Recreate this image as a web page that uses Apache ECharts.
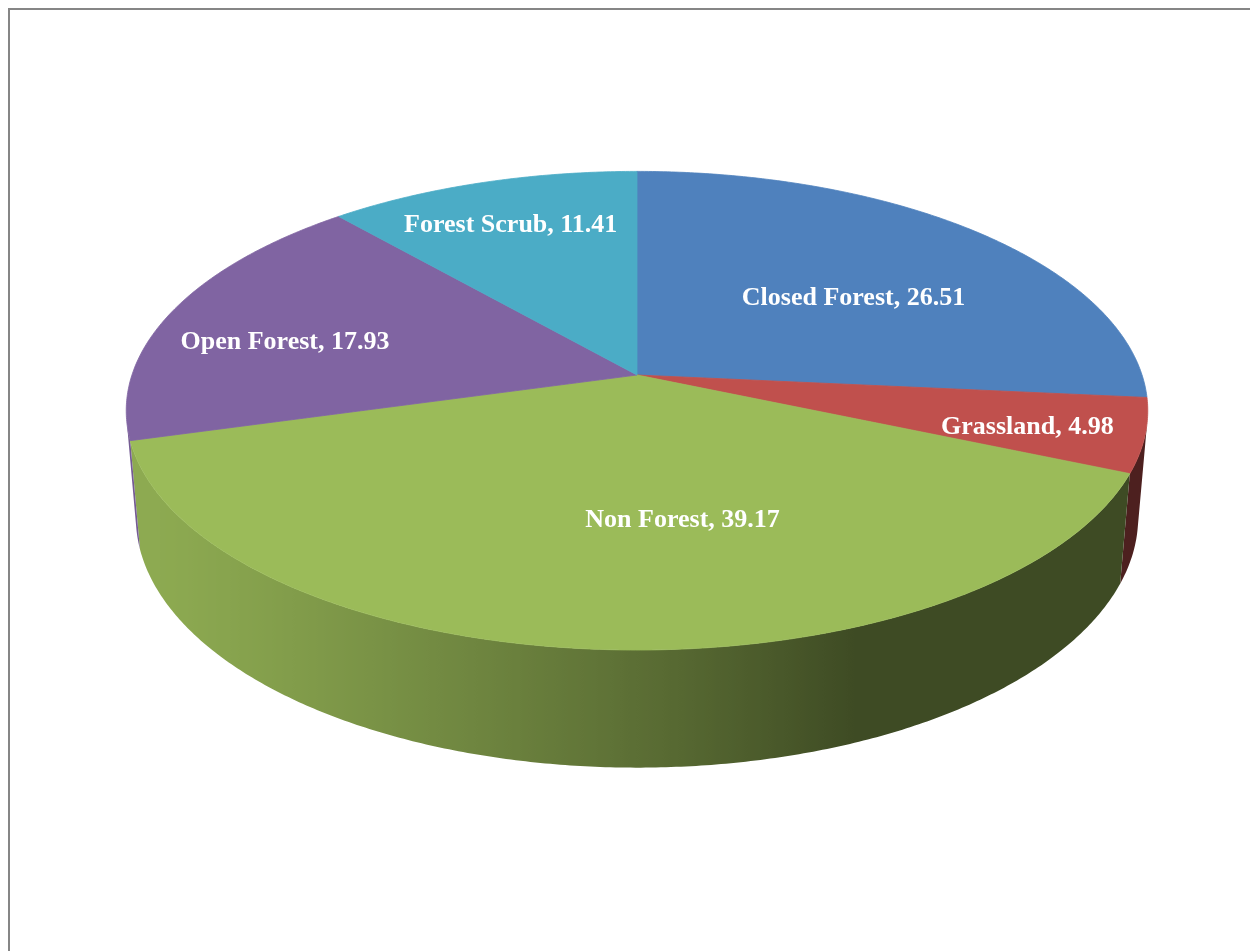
<!DOCTYPE html>
<html>
<head>
<meta charset="utf-8">
<title>Forest Cover</title>
<script src="https://cdn.jsdelivr.net/npm/echarts@6/dist/echarts.min.js"></script>
<style>
  html, body { margin: 0; padding: 0; background: #fff; }
  #chart { width: 1250px; height: 951px; }
</style>
</head>
<body>
<div id="chart"></div>
<script>
// Land cover shares (%)
const categories = ['Closed Forest', 'Grassland', 'Non Forest', 'Open Forest', 'Forest Scrub'];
const values = [26.51, 4.98, 39.17, 17.93, 11.41];
const colors = ['#4F81BD', '#C0504D', '#9BBB59', '#8064A2', '#4BACC6'];

// Label anchor: radius fraction on the top face plus a small pixel nudge
const labelPlacement = [
  { r: 0.60, dx: 5, dy: 12 },
  { r: 0.80, dx: -13, dy: 4 },
  { r: 0.60, dx: 68, dy: -9 },
  { r: 0.72, dx: -14, dy: 14 },
  { r: 0.75, dx: -6, dy: -1 }
];

// Perspective camera for the tilted disc
const view = {
  cx: 637, cy: 375,      // screen position of the disc centre
  f: 3000,               // focal length (px)
  d: 5.94,               // camera distance (disc radius = 1)
  tilt: 27.6 * Math.PI / 180,
  h: 0.24                // disc thickness
};
const cosT = Math.cos(view.tilt), sinT = Math.sin(view.tilt);

// theta in degrees, clockwise from the far side (12 o'clock)
function project(thetaDeg, r, y) {
  const t = thetaDeg * Math.PI / 180;
  const X = r * Math.sin(t), Z = r * Math.cos(t), Y = y;
  const yv = Y * cosT + Z * sinT;
  const zv = view.d + Z * cosT - Y * sinT;
  return [view.cx + view.f * X / zv, view.cy - view.f * yv / zv];
}

const total = values.reduce((s, v) => s + v, 0);
const starts = [];
values.reduce((acc, v, i) => { starts[i] = acc; return acc + v; }, 0);
const angleOf = v => v / total * 360;

// Portion of the outer wall that faces the camera
const visLimit = Math.acos(-1 / (view.d * cosT)) * 180 / Math.PI;
const visMin = visLimit, visMax = 360 - visLimit;

// Side lighting: light comes from the front-left
const light = { ambient: 0.40, diffuse: 0.51, dir: 248 };
function shade(hex, factor) {
  const n = parseInt(hex.slice(1), 16);
  const r = Math.round(((n >> 16) & 255) * factor);
  const g = Math.round(((n >> 8) & 255) * factor);
  const b = Math.round((n & 255) * factor);
  return 'rgb(' + r + ',' + g + ',' + b + ')';
}
function wallFactor(theta) {
  const c = Math.cos((theta - light.dir) * Math.PI / 180);
  return light.ambient + light.diffuse * Math.max(0, c);
}

function renderWall(params, api) {
  const i = params.dataIndex;
  const a0 = angleOf(starts[i]);
  const a1 = a0 + angleOf(api.value(0));
  const lo = Math.max(a0, visMin), hi = Math.min(a1, visMax);
  if (lo >= hi) return { type: 'group', children: [] };
  const steps = Math.max(2, Math.ceil((hi - lo) / 0.5));
  const top = [], bottom = [];
  for (let k = 0; k <= steps; k++) {
    const t = lo + (hi - lo) * k / steps;
    top.push(project(t, 1, 0));
    bottom.push(project(t, 1, -view.h));
  }
  const pts = top.concat(bottom.reverse());
  const xs = pts.map(p => p[0]);
  const xmin = Math.min.apply(null, xs), xmax = Math.max.apply(null, xs);
  const span = Math.max(1e-6, xmax - xmin);
  const stops = [];
  for (let k = steps; k >= 0; k--) {
    const t = lo + (hi - lo) * k / steps;
    const x = project(t, 1, 0)[0];
    stops.push({ offset: Math.min(1, Math.max(0, (x - xmin) / span)), color: shade(colors[i], wallFactor(t)) });
  }
  return {
    type: 'polygon',
    shape: { points: pts },
    style: {
      fill: { type: 'linear', x: xmin, y: 0, x2: xmax, y2: 0, global: true, colorStops: stops }
    }
  };
}

function renderTop(params, api) {
  const i = params.dataIndex;
  const a0 = angleOf(starts[i]);
  const a1 = a0 + angleOf(api.value(0));
  const steps = Math.max(2, Math.ceil((a1 - a0) / 0.5));
  const pts = [project(0, 0, 0)];
  for (let k = 0; k <= steps; k++) {
    pts.push(project(a0 + (a1 - a0) * k / steps, 1, 0));
  }
  return {
    type: 'polygon',
    shape: { points: pts },
    style: { fill: colors[i], stroke: colors[i], lineWidth: 0.8, lineJoin: 'round' }
  };
}

function renderLabel(params, api) {
  const i = params.dataIndex;
  const v = api.value(0);
  const mid = angleOf(starts[i]) + angleOf(v) / 2;
  const lp = labelPlacement[i];
  const p = project(mid, lp.r, 0);
  return {
    type: 'text',
    x: p[0] + lp.dx,
    y: p[1] + lp.dy,
    style: {
      text: categories[i] + ', ' + v.toFixed(2),
      fill: '#ffffff',
      font: 'bold 26px "Liberation Serif", "Times New Roman", serif',
      align: 'center',
      verticalAlign: 'middle'
    }
  };
}

const chart = echarts.init(document.getElementById('chart'), null, { renderer: 'canvas' });
const seriesData = values.map((v, i) => ({ name: categories[i], value: v }));

chart.setOption({
  backgroundColor: '#ffffff',
  animation: false,
  graphic: [{
    type: 'rect',
    shape: { x: 9, y: 9, width: 1300, height: 1000 },
    style: { fill: 'none', stroke: '#868686', lineWidth: 2 },
    silent: true
  }],
  series: [
    { type: 'custom', name: 'wall', coordinateSystem: 'none', z: 1, renderItem: renderWall, data: seriesData, silent: true },
    { type: 'custom', name: 'top', coordinateSystem: 'none', z: 2, renderItem: renderTop, data: seriesData, silent: true },
    { type: 'custom', name: 'label', coordinateSystem: 'none', z: 3, renderItem: renderLabel, data: seriesData, silent: true }
  ]
});
</script>
</body>
</html>
